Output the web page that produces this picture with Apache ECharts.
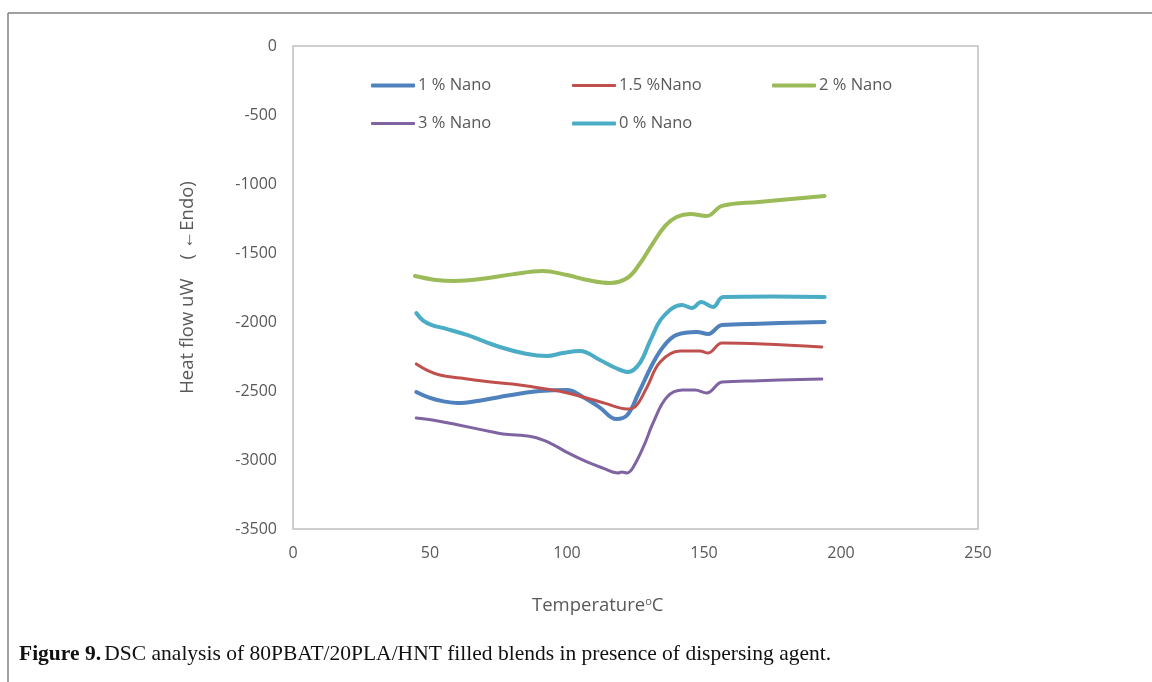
<!DOCTYPE html>
<html>
<head>
<meta charset="utf-8">
<script src="https://cdn.jsdelivr.net/npm/echarts@6/dist/echarts.min.js"></script>
<style>
  html, body { margin: 0; padding: 0; background: #ffffff; }
  #chart { width: 1152px; height: 682px; }
</style>
</head>
<body>
<div id="chart"></div>
<script>
// DSC heat-flow traces, [temperature °C, heat flow uW]
const nano1 = [[45,-2507],[50,-2550],[55,-2575],[60,-2587],[68,-2570],[75.5,-2543],[83,-2518],[90,-2500],[100,-2493],[105.8,-2543],[112,-2620],[118,-2703],[122,-2674],[126,-2520],[131.4,-2297],[135.5,-2170],[140,-2094],[147.4,-2072],[151.5,-2087],[156.6,-2022],[170,-2012],[194,-2000]];
const nano15 = [[45,-2304],[49,-2350],[53.6,-2384],[61,-2406],[70,-2430],[80,-2450],[87.6,-2471],[97,-2500],[105.8,-2543],[114,-2590],[121.9,-2630],[124.8,-2616],[129,-2480],[134,-2290],[141.2,-2210],[148.5,-2210],[151.5,-2225],[156.6,-2152],[171.5,-2159],[193,-2181]];
const nano2 = [[44.5,-1667],[52,-1695],[59,-1703],[70,-1685],[80,-1655],[91,-1630],[100,-1660],[108,-1698],[115.7,-1717],[122,-1681],[126.5,-1580],[131.4,-1428],[136,-1300],[140,-1239],[145,-1217],[151,-1232],[156.6,-1159],[170,-1130],[194,-1087]];
const nano3 = [[45,-2696],[50.9,-2710],[60,-2745],[72.8,-2797],[76.6,-2812],[87.6,-2833],[93.8,-2877],[100,-2945],[107.3,-3014],[113,-3058],[118.6,-3094],[120,-3087],[121.9,-3094],[124,-3058],[128,-2900],[131.4,-2732],[136.5,-2543],[142.3,-2493],[146.7,-2493],[151,-2514],[156.6,-2435],[170,-2425],[193,-2413]];
const nano0 = [[45,-1935],[47.5,-1990],[50.7,-2022],[56,-2050],[63.5,-2094],[75.5,-2181],[85,-2230],[92.7,-2246],[98.5,-2225],[104.7,-2210],[112,-2275],[118,-2335],[122.3,-2362],[126.6,-2297],[130.5,-2130],[135,-1964],[142,-1877],[145.6,-1899],[149,-1855],[153.3,-1891],[157,-1819],[175,-1815],[194,-1819]];

const seriesNames = ['1 % Nano', '1.5 %Nano', '2 % Nano', '3 % Nano', '0 % Nano'];
const seriesData = [nano1, nano15, nano2, nano3, nano0];
const colors = ['#4f81bd', '#c0504d', '#9bbb59', '#8064a2', '#4bacc6'];
const widths = [4, 3, 4, 3, 4];

const chart = echarts.init(document.getElementById('chart'));

const tickFont = { fontFamily: 'Open Sans', fontSize: 16, color: '#595959' };

// legend laid out as two rows of fixed-width columns
const legendSlots = [[371, 77], [572, 77], [772, 77], [371, 115], [572, 115]];
const legends = seriesNames.map((name, i) => ({
  data: [name],
  left: legendSlots[i][0],
  top: legendSlots[i][1],
  padding: 0,
  itemWidth: 44,
  itemHeight: widths[i],
  icon: 'roundRect',
  selectedMode: false,
  textStyle: { fontFamily: 'Open Sans', fontSize: 16.5, color: '#595959', padding: [0, 0, 0, -2] }
}));

chart.setOption({
  animation: false,
  backgroundColor: '#ffffff',
  legend: legends,
  grid: {
    left: 293, top: 46, width: 685, height: 483,
    show: true, borderColor: '#c0c0c0', borderWidth: 1.5, backgroundColor: 'transparent'
  },
  xAxis: {
    type: 'value', min: 0, max: 250, interval: 50,
    axisLine: { show: false }, axisTick: { show: false }, splitLine: { show: false },
    axisLabel: Object.assign({ margin: 16 }, tickFont)
  },
  yAxis: {
    type: 'value', min: -3500, max: 0, interval: 500,
    axisLine: { show: false }, axisTick: { show: false }, splitLine: { show: false },
    axisLabel: Object.assign({ margin: 16, formatter: v => String(v) }, tickFont),
    name: 'Heat flow uW\u3000( \u2190Endo)',
    nameLocation: 'middle', nameGap: 96, nameRotate: 90,
    nameTextStyle: { fontFamily: 'Open Sans', fontSize: 18.5, color: '#595959' }
  },
  series: seriesNames.map((name, i) => ({
    name: name,
    type: 'line',
    data: seriesData[i],
    smooth: 0.4,
    showSymbol: false,
    color: colors[i],
    lineStyle: { width: widths[i], color: colors[i], cap: 'round', join: 'round' }
  })),
  graphic: [
    // page frame: top and left rules
    { type: 'line', shape: { x1: 8, y1: 13, x2: 1152, y2: 13 }, style: { stroke: '#808080', lineWidth: 1.5 } },
    { type: 'line', shape: { x1: 8, y1: 13, x2: 8, y2: 682 }, style: { stroke: '#808080', lineWidth: 1.5 } },
    // x-axis title, set a little left of the plot centre
    {
      type: 'text', x: 532, y: 606,
      style: {
        text: '{a|Temperature}{s|o}{a|C}',
        verticalAlign: 'middle',
        rich: {
          a: { fontFamily: 'Open Sans', fontSize: 18.5, fill: '#595959' },
          s: { fontFamily: 'Open Sans', fontSize: 11, fill: '#595959', padding: [0, 0, 8, 0] }
        }
      }
    },
    {
      type: 'text', left: 19, top: 643,
      style: {
        text: '{b|Figure 9.} {r|DSC analysis of 80PBAT/20PLA/HNT filled blends in presence of dispersing agent.}',
        rich: {
          b: { fontFamily: 'Liberation Serif', fontSize: 21.5, fontWeight: 'bold', fill: '#111111' },
          r: { fontFamily: 'Liberation Serif', fontSize: 21.5, fill: '#111111' }
        }
      }
    }
  ]
});
</script>
</body>
</html>
